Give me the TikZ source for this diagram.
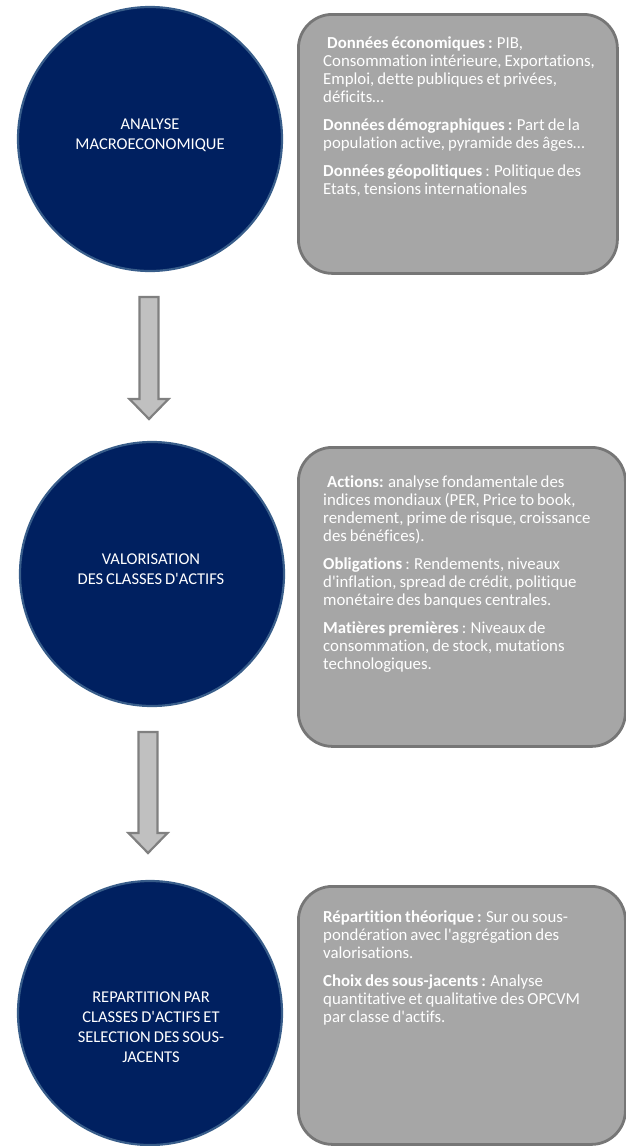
\documentclass[tikz,border=0pt]{standalone}
\usepackage{fontspec}
\setmainfont{Carlito}[WordSpace=0.8, Ligatures={TeXOff,CommonOff}]
\definecolor{navy}{RGB}{0,32,96}
\definecolor{navyedge}{RGB}{56,93,138}
\definecolor{boxfill}{RGB}{166,166,166}
\definecolor{boxedge}{RGB}{118,118,118}
\definecolor{arrfill}{RGB}{192,192,192}
\definecolor{arredge}{RGB}{128,128,128}
\tikzset{
  circ/.style={circle, fill=navy, draw=navyedge, line width=2.2pt, minimum size=264pt, inner sep=0pt},
  circtext/.style={text=white, align=center, font=\fontsize{16.5}{20}\selectfont, anchor=base, inner sep=0pt},
  gbox/.style={rectangle, rounded corners=34pt, fill=boxfill, draw=boxedge, line width=2.8pt, inner sep=0pt, anchor=north west},
  boxtext/.style={text=white, align=left, font=\fontsize{16.8}{18}\selectfont, anchor=base west, inner sep=0pt},
  blockarrow/.style={fill=arrfill, draw=arredge, line width=2.2pt, line join=miter}
}
\begin{document}
\begin{tikzpicture}[x=1pt,y=-1pt]
\useasboundingbox (0,0) rectangle (626,1146);
% circles
\node[circ] (c1) at (150,139) {};
\node[circ] (c2) at (152,574) {};
\node[circ] (c3) at (150,1013) {};
\node[circtext] (t1) at (150,149) {ANALYSE\\MACROECONOMIQUE};
\node[circtext] (t2) at (151,584) {VALORISATION\\DES CLASSES D'ACTIFS};
\node[circtext] (t3) at (151,1062) {REPARTITION PAR\\CLASSES D'ACTIFS ET\\SELECTION DES SOUS-\\JACENTS};
% boxes
\node[gbox, minimum width=319pt, minimum height=259pt] (b1) at (297,13) {};
\node[gbox, minimum width=327pt, minimum height=299pt] (b2) at (297,446) {};
\node[gbox, minimum width=327pt, minimum height=258pt] (b3) at (297,885) {};
\node[boxtext] (bt1) at (323,194) {\hspace*{4pt}\textbf{Données économiques :} PIB,\\
Consommation intérieure, Exportations,\\
Emploi, dette publiques et privées,\\
déficits…\\[10pt]
\textbf{Données démographiques :} Part de la\\
population active, pyramide des âges…\\[10pt]
\textbf{Données géopolitiques} : Politique des\\
Etats, tensions internationales};
\node[boxtext] (bt2) at (323,669) {\hspace*{4pt}\textbf{Actions:} analyse fondamentale des\\
indices mondiaux (PER, Price to book,\\
rendement, prime de risque, croissance\\
des bénéfices).\\[10pt]
\textbf{Obligations} : Rendements, niveaux\\
d'inflation, spread de crédit, politique\\
monétaire des banques centrales.\\[10pt]
\textbf{Matières premières} : Niveaux de\\
consommation, de stock, mutations\\
technologiques.};
\node[boxtext] (bt3) at (323,1022) {\textbf{Répartition théorique :} Sur ou sous-\\
pondération avec l'aggrégation des\\
valorisations.\\[10pt]
\textbf{Choix des sous-jacents :} Analyse\\
quantitative et qualitative des OPCVM\\
par classe d'actifs.};
% block arrows
\coordinate (a1) at (149,297);
\coordinate (a2) at (148,732);
\draw[blockarrow] (a1) ++(-9.5,0) -- ++(19,0) -- ++(0,102) -- ++(10,0) -- ++(-19.5,20) -- ++(-19.5,-20) -- ++(10,0) -- cycle;
\draw[blockarrow] (a2) ++(-9.5,0) -- ++(19,0) -- ++(0,101) -- ++(10,0) -- ++(-19.5,20) -- ++(-19.5,-20) -- ++(10,0) -- cycle;
\end{tikzpicture}
\end{document}
